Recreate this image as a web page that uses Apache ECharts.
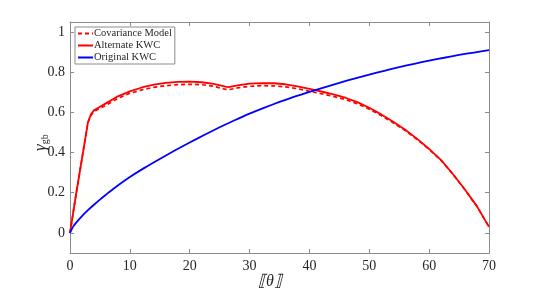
<!DOCTYPE html>
<html><head><meta charset="utf-8">
<script src="https://cdn.jsdelivr.net/npm/echarts@6/dist/echarts.min.js"></script>
<style>html,body{margin:0;padding:0;background:#fff}#c{width:540px;height:295px}</style>
</head><body><div id="c"></div>
<script>
const thetaBlue = [0,0.5,1,2,3,4,5,6,7.5,10,12.5,15,17.5,20,22.5,25,27.5,30,32.5,35,37.5,40,42.5,45,47.5,50,52.5,55,57.5,60,62.5,65,67.5,70];
const originalKWC = [0,0.03,0.05,0.084,0.113,0.14,0.166,0.19,0.225,0.278,0.325,0.368,0.41,0.45,0.489,0.526,0.561,0.594,0.624,0.652,0.678,0.702,0.725,0.747,0.768,0.788,0.807,0.825,0.842,0.858,0.872,0.886,0.898,0.91];
const thetaRed = [0,1,2,3,3.5,4,5,6,8,10,12,14,16,18,20,22,24,26,26.5,28,30,32,34,36,38,40,42,44,46,48,50,52,54,56,58,60,62,64,66,68,70];
const alternateKWC = [0,0.19,0.37,0.55,0.59,0.61,0.628,0.645,0.68,0.705,0.724,0.738,0.747,0.752,0.753,0.75,0.742,0.728,0.726,0.735,0.743,0.746,0.745,0.74,0.73,0.717,0.704,0.69,0.673,0.651,0.623,0.59,0.553,0.514,0.468,0.418,0.362,0.292,0.215,0.132,0.03];
const covarianceModel = [0,0.19,0.37,0.55,0.585,0.605,0.62,0.635,0.67,0.695,0.712,0.725,0.733,0.738,0.74,0.738,0.73,0.715,0.713,0.722,0.73,0.733,0.732,0.727,0.718,0.705,0.693,0.68,0.664,0.643,0.616,0.584,0.548,0.51,0.465,0.416,0.361,0.291,0.214,0.131,0.03];
const yTicks = [0,0.2,0.4,0.6,0.8,1];

const pairs = (xs, ys) => xs.map((x, i) => [x, ys[i]]);
const FONT = 'Liberation Serif';
const axisCol = '#8c8c8c';
const txtCol = '#262626';

function xAx(pos, show) {
  return {
    type: 'value', position: pos, min: 0, max: 70, interval: 10,
    axisLine: {show: true, onZero: false, lineStyle: {color: axisCol, width: 1}},
    axisTick: {show: true, inside: true, length: 4, lineStyle: {color: axisCol}},
    axisLabel: {show: show, color: txtCol, fontFamily: FONT, fontSize: 14, margin: 6},
    splitLine: {show: false}
  };
}
function yAx(pos, show) {
  return {
    type: 'value', position: pos, min: -0.1, max: 1.05,
    axisLine: {show: true, onZero: false, lineStyle: {color: axisCol, width: 1}},
    axisTick: {show: true, inside: true, length: 4, customValues: yTicks, lineStyle: {color: axisCol}},
    axisLabel: {show: show, customValues: yTicks, color: txtCol, fontFamily: FONT, fontSize: 14, margin: 5,
      formatter: v => String(v)},
    splitLine: {show: false}
  };
}

const chart = echarts.init(document.getElementById('c'), null, {renderer: 'canvas'});
chart.setOption({
  animation: false,
  backgroundColor: '#fff',
  grid: {left: 70, right: 51, top: 22, bottom: 42, containLabel: false},
  xAxis: [xAx('bottom', true), xAx('top', false)],
  yAxis: [yAx('left', true), yAx('right', false)],
  graphic: [
    {type: 'text', left: 258, top: 274, style: {text: '⟦θ⟧', font: 'italic 16px "Liberation Serif"', fill: txtCol}},
    {type: 'text', x: 32, y: 151, rotation: Math.PI / 2,
      style: {rich: {g: {fontFamily: FONT, fontSize: 17, fontStyle: 'italic', fill: txtCol}, s: {fontFamily: FONT, fontSize: 10, fill: txtCol, padding: [8, 0, 0, 0]}},
        text: '{g|γ}{s|gb}'}}
  ],
  legend: {
    orient: 'vertical', left: 75, top: 27,
    itemWidth: 15, itemHeight: 8, itemGap: 1,
    padding: [1, 3, 1, 2],
    borderColor: '#8c8c8c', borderWidth: 1, backgroundColor: '#fff',
    itemStyle: {opacity: 0},
    textStyle: {fontFamily: FONT, fontSize: 10.5, lineHeight: 11, color: txtCol, padding: [0, 0, 0, -4]},
    data: ['Covariance Model', 'Alternate KWC', 'Original KWC']
  },
  series: [
    {name: 'Covariance Model', type: 'line', showSymbol: false, symbol: 'none',
      data: pairs(thetaRed, covarianceModel), lineStyle: {color: '#ff0000', width: 1.7, type: [4, 3]}, itemStyle: {color: '#ff0000'}},
    {name: 'Alternate KWC', type: 'line', showSymbol: false, symbol: 'none',
      data: pairs(thetaRed, alternateKWC), lineStyle: {color: '#ff0000', width: 1.8}, itemStyle: {color: '#ff0000'}},
    {name: 'Original KWC', type: 'line', showSymbol: false, symbol: 'none', smooth: 0.2,
      data: pairs(thetaBlue, originalKWC), lineStyle: {color: '#0000ff', width: 1.8}, itemStyle: {color: '#0000ff'}}
  ]
});
</script></body></html>
